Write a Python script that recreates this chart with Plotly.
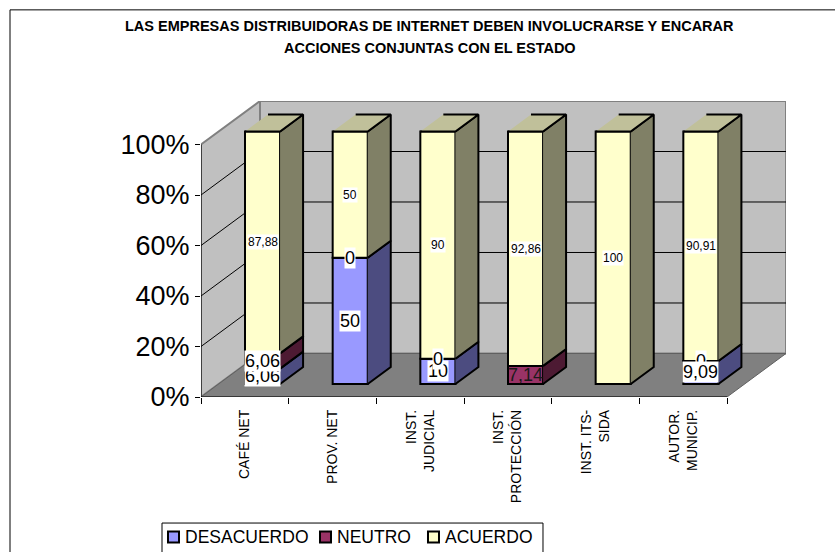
import plotly.graph_objects as go

# ---------------- data ----------------
CATEGORIES = ["CAFÉ NET", "PROV. NET", "INST.<br>JUDICIAL", "INST.<br>PROTECCIÓN",
              "INST. ITS-<br>SIDA", "AUTOR.<br>MUNICIP."]
SERIES_NAMES = ["DESACUERDO", "NEUTRO", "ACUERDO"]
DESACUERDO = [6.06, 50, 10, 0, 0, 9.09]
NEUTRO = [6.06, 0, 0, 7.14, 0, 0]
ACUERDO = [87.88, 50, 90, 92.86, 100, 90.91]
Y_TICKS = [0, 20, 40, 60, 80, 100]
Y_TICK_LABELS = ["0%", "20%", "40%", "60%", "80%", "100%"]
TITLE_LINES = ["LAS EMPRESAS DISTRIBUIDORAS DE INTERNET DEBEN INVOLUCRARSE Y ENCARAR",
               "ACCIONES CONJUNTAS CON EL ESTADO"]

# ---------------- style / geometry ----------------
FONT = "Liberation Sans, Arial, sans-serif"
FRONT = ["#9999FF", "#993366", "#FFFFCC"]
SIDE = ["#4C4C80", "#4D1A33", "#808066"]
TOP = ["#7373BF", "#73264D", "#C0C09A"]
WALL = "#C0C0C0"
FLOOR = "#808080"
EDGE = "#808080"

W, H = 835, 552
PX_L, PX_B = 201, 397          # front-left-bottom corner of the plot box
PX_PER_CAT = 87.67
PX_PER_PCT = 2.524
DEPTH_PX = (59.0, 43.5)
n = len(CATEGORIES)
DX = DEPTH_PX[0] / PX_PER_CAT
DY = DEPTH_PX[1] / PX_PER_PCT
X_MAX = n + DX
Y_MAX = 100 + DY
PX_R = PX_L + X_MAX * PX_PER_CAT
PX_T = PX_B - Y_MAX * PX_PER_PCT
Z0, Z1 = 0.30, 0.69
BAR_W = 0.40
BD = Z1 - Z0

# legend geometry (pixels)
LEG_BOX = (162, 523, 543, 575)
LEG_ICON_X = [168, 320, 428]
LEG_ICON_Y = (531.5, 542.5)
LEG_TEXT_GAP = 15
LEG_FONT = 17.5


def pxx(px):
    return (px - PX_L) / (PX_R - PX_L)


def pxy(py):
    return (PX_B - py) / (PX_B - PX_T)


def fmt(v):
    s = f"{v:.2f}".rstrip("0").rstrip(".")
    return s.replace(".", ",")


series = [DESACUERDO, NEUTRO, ACUERDO]
fig = go.Figure()

# walls / floor / gridlines
shapes = []
def path(pts):
    return "M " + " L ".join(f"{x},{y}" for x, y in pts) + " Z"

shapes.append(dict(type="path", path=path([(0, 0), (DX, DY), (DX, 100 + DY), (0, 100)]),
                   fillcolor=WALL, line=dict(color=EDGE, width=2), layer="below"))
shapes.append(dict(type="path", path=path([(DX, DY), (n + DX, DY), (n + DX, 100 + DY), (DX, 100 + DY)]),
                   fillcolor=WALL, line=dict(color=EDGE, width=2), layer="below"))
shapes.append(dict(type="path", path=path([(0, 0), (n, 0), (n + DX, DY), (DX, DY)]),
                   fillcolor=FLOOR, line=dict(color="#606060", width=1), layer="below"))
for v in Y_TICKS[1:-1]:
    shapes.append(dict(type="line", x0=DX, y0=v + DY, x1=n + DX, y1=v + DY,
                       line=dict(color="black", width=1), layer="below"))
    shapes.append(dict(type="line", x0=0, y0=v, x1=DX, y1=v + DY,
                       line=dict(color="black", width=1), layer="below"))
# axis lines
shapes.append(dict(type="line", x0=0, y0=0, x1=0, y1=100, line=dict(color="black", width=1), layer="below"))
shapes.append(dict(type="line", x0=0, y0=0, x1=n, y1=0, line=dict(color="black", width=1), layer="below"))
# outer chart border
shapes.append(dict(type="rect", xref="paper", yref="paper", x0=pxx(10), y0=pxy(565), x1=pxx(850), y1=pxy(10),
                   line=dict(color="black", width=1), fillcolor="rgba(0,0,0,0)", layer="below"))

# bars
base = [0.0] * n
bases_per_series = []
for s, vals in enumerate(series):
    bases = list(base)
    bases_per_series.append(bases)
    xs = [i + 0.5 + Z0 * DX for i in range(n)]
    fig.add_trace(go.Bar(
        x=xs, y=vals, base=[b + Z0 * DY for b in bases], width=BAR_W,
        name=SERIES_NAMES[s], showlegend=False,
        marker=dict(color=FRONT[s], line=dict(color="black", width=2)),
        hoverinfo="skip",
    ))
    px_, py_ = [], []
    for i, v in enumerate(vals):
        if v <= 0:
            continue
        xr = xs[i] + BAR_W / 2
        y0 = bases[i] + Z0 * DY
        y1 = y0 + v
        px_ += [xr, xr + BD * DX, xr + BD * DX, xr, None]
        py_ += [y0, y0 + BD * DY, y1 + BD * DY, y1, None]
    fig.add_trace(go.Scatter(x=px_, y=py_, mode="lines", fill="toself", fillcolor=SIDE[s],
                             line=dict(color="black", width=2), showlegend=False, hoverinfo="skip"))
    base = [b + v for b, v in zip(base, vals)]

# top faces (on top-most non-zero segment)
tx, ty, tc = [], [], None
for i in range(n):
    top_s = max(s for s in range(len(series)) if series[s][i] > 0)
    tc = TOP[top_s]
    xl = i + 0.5 + Z0 * DX - BAR_W / 2
    xr = xl + BAR_W
    T = base[i] + Z0 * DY
    tx += [xl, xr, xr + BD * DX, xl + BD * DX, None]
    ty += [T, T, T + BD * DY, T + BD * DY, None]
fig.add_trace(go.Scatter(x=tx, y=ty, mode="lines", fill="toself", fillcolor=tc,
                         line=dict(color="black", width=2), showlegend=False, hoverinfo="skip"))

# data labels
LABEL_ORDER = [[0, 1, 2]] * 5 + [[1, 0, 2]]
LABEL_NO_BG = {(1, 3)}
LABEL_SIZE = [18, 18, 12]
annotations = []
for i in range(n):
    for s in LABEL_ORDER[i]:
        v = series[s][i]
        b = bases_per_series[s][i]
        if v <= 0 and b <= 0:
            continue
        nobg = (s, i) in LABEL_NO_BG
        annotations.append(dict(
            x=i + 0.5 + Z0 * DX, y=b + v / 2 + Z0 * DY, text=fmt(v), showarrow=False,
            font=dict(family=FONT, size=LABEL_SIZE[s], color="#1a1a1a" if nobg else "black"),
            bgcolor="rgba(0,0,0,0)" if nobg else "white", borderpad=0,
        ))

# title lines
for line, py in zip(TITLE_LINES, [26.5, 48.5]):
    annotations.append(dict(xref="paper", yref="paper", x=pxx(430), y=pxy(py), text=f"<b>{line}</b>",
                            showarrow=False, xanchor="center", yanchor="middle",
                            font=dict(family=FONT, size=14.5, color="black")))

# legend (box, swatches, texts)
shapes.append(dict(type="rect", xref="paper", yref="paper",
                   x0=pxx(LEG_BOX[0]), y0=pxy(LEG_BOX[3]), x1=pxx(LEG_BOX[2]), y1=pxy(LEG_BOX[1]),
                   line=dict(color="black", width=1), fillcolor="white", layer="above"))
for s, name in enumerate(SERIES_NAMES):
    x0 = LEG_ICON_X[s]
    shapes.append(dict(type="rect", xref="paper", yref="paper",
                       x0=pxx(x0), x1=pxx(x0 + (LEG_ICON_Y[1] - LEG_ICON_Y[0])),
                       y0=pxy(LEG_ICON_Y[1]), y1=pxy(LEG_ICON_Y[0]),
                       line=dict(color="black", width=2), fillcolor=FRONT[s], layer="above"))
    annotations.append(dict(xref="paper", yref="paper", x=pxx(x0 + LEG_TEXT_GAP),
                            y=pxy((LEG_ICON_Y[0] + LEG_ICON_Y[1]) / 2), text=name, showarrow=False,
                            xanchor="left", yanchor="middle",
                            font=dict(family=FONT, size=LEG_FONT, color="black")))

fig.update_layout(
    width=W, height=H,
    margin=dict(l=PX_L, r=W - PX_R, t=PX_T, b=H - PX_B, pad=0, autoexpand=False),
    paper_bgcolor="white", plot_bgcolor="white",
    barmode="overlay",
    shapes=shapes, annotations=annotations,
    font=dict(family=FONT, color="black"),
    showlegend=False,
    xaxis=dict(range=[0, X_MAX], showgrid=False, zeroline=False, showline=False, automargin=False,
               tickmode="array", tickvals=[i + 0.5 for i in range(n)], ticktext=CATEGORIES,
               tickangle=-90, ticks="", ticklabelstandoff=9,
               tickfont=dict(family=FONT, size=14, color="black"),
               minor=dict(tickmode="array", tickvals=list(range(n + 1)), ticks="outside",
                          ticklen=6, tickcolor="black", tickwidth=1, showgrid=False),
               fixedrange=True),
    yaxis=dict(range=[0, Y_MAX], showgrid=False, zeroline=False, showline=False, automargin=False,
               tickmode="array", tickvals=Y_TICKS, ticktext=Y_TICK_LABELS,
               ticks="outside", ticklen=5, tickcolor="black",
               tickfont=dict(family=FONT, size=27, color="black"), fixedrange=True),
)

# remove the browser's default page margin so the figure sits at the window's top-left
fig.write_html("out.html", config={"displayModeBar": False},
               post_script="document.body.style.margin='0';document.body.style.overflow='hidden';")
